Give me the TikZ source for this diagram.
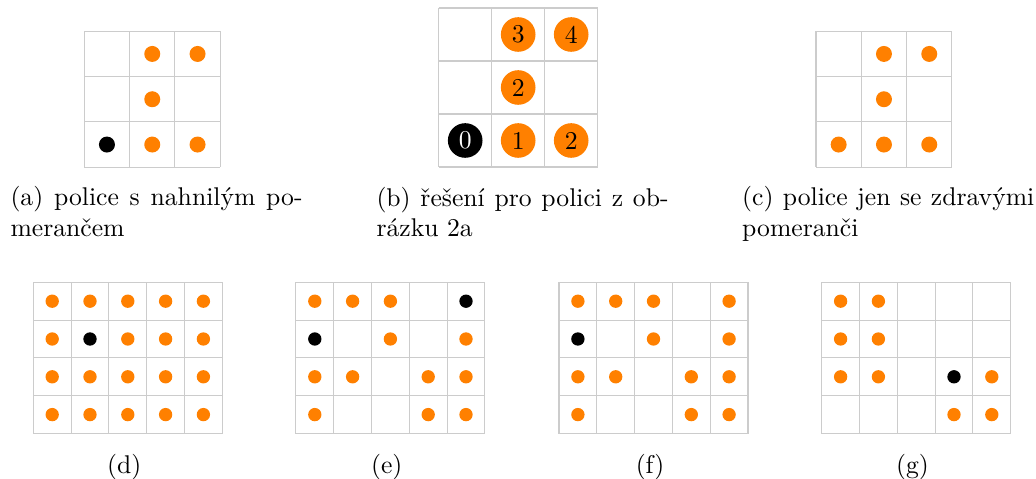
\documentclass[tikz,border=0pt]{standalone}
\usepackage{fontspec}
\begin{document}
\tikzset{
  gl/.style={draw=black!20, line width=0.4pt},
  dO/.style={circle, fill=orange, inner sep=0pt, minimum size=\dsz},
  dB/.style={circle, fill=black, inner sep=0pt, minimum size=\dsz},
  numO/.style={circle, fill=orange, inner sep=0pt, minimum size=13.5pt, font=\normalsize},
  numB/.style={circle, fill=black, text=white, inner sep=0pt, minimum size=13.5pt, font=\normalsize},
  captext/.style={anchor=base west, inner sep=0pt},
  labtext/.style={anchor=base, inner sep=0pt},
}
\newcommand\mygrid[8]{% #1 name, #2 x0, #3 y0, #4 cell, #5 cols, #6 rows, #7 dot size, #8 dots
  \begin{scope}[xshift=#2*0.39pt, yshift=-#3*0.39pt, x=#4*0.39pt, y=-#4*0.39pt]
    \def\dsz{#7}
    \foreach \i in {0,...,#5} \draw[gl] (\i,0) -- (\i,#6);
    \foreach \j in {0,...,#6} \draw[gl] (0,\j) -- (#5,\j);
    \foreach \c/\r/\s in {#8} \node[\s] (#1-\c-\r) at (\c-0.5,\r-0.5) {};
  \end{scope}}
\begin{tikzpicture}[x=0.39pt, y=-0.39pt]
\useasboundingbox (0,0) rectangle (1036,479);
% (a)
\mygrid{a}{84.3}{31.3}{45.3}{3}{3}{6.24pt}{2/1/dO,3/1/dO,2/2/dO,1/3/dB,2/3/dO,3/3/dO}
% (b)
\begin{scope}[xshift=438.7*0.39pt, yshift=-8*0.39pt, x=53*0.39pt, y=-53*0.39pt]
  \foreach \i in {0,...,3} \draw[gl] (\i,0) -- (\i,3);
  \foreach \j in {0,...,3} \draw[gl] (0,\j) -- (3,\j);
  \node[numO] (b-2-1) at (1.5,0.5) {3};
  \node[numO] (b-3-1) at (2.5,0.5) {4};
  \node[numO] (b-2-2) at (1.5,1.5) {2};
  \node[numB] (b-1-3) at (0.5,2.5) {0};
  \node[numO] (b-2-3) at (1.5,2.5) {1};
  \node[numO] (b-3-3) at (2.5,2.5) {2};
\end{scope}
% (c)
\mygrid{c}{816}{31.3}{45.3}{3}{3}{6.24pt}{2/1/dO,3/1/dO,2/2/dO,1/3/dO,2/3/dO,3/3/dO}
% captions top
\node[captext] (capa1) at (10,206) {\makebox[113.9pt][s]{(a) police s nahnilým po-}};
\node[captext] (capa2) at (10,236.7) {merančem};
\node[captext] (capb1) at (376,206.5) {\makebox[113.9pt][s]{(b) řešení pro polici z ob-}};
\node[captext] (capb2) at (376,236.7) {rázku 2a};
\node[captext] (capc1) at (741.7,206) {\makebox[113.9pt][s]{(c) police jen se zdravými}};
\node[captext] (capc2) at (741.7,236.7) {pomeranči};
% (d)
\mygrid{d}{33.3}{282.3}{37.8}{5}{4}{5.2pt}{1/1/dO,2/1/dO,3/1/dO,4/1/dO,5/1/dO,1/2/dO,2/2/dB,3/2/dO,4/2/dO,5/2/dO,1/3/dO,2/3/dO,3/3/dO,4/3/dO,5/3/dO,1/4/dO,2/4/dO,3/4/dO,4/4/dO,5/4/dO}
% (e)
\mygrid{e}{295.9}{282.3}{37.8}{5}{4}{5.2pt}{1/1/dO,2/1/dO,3/1/dO,5/1/dB,1/2/dB,3/2/dO,5/2/dO,1/3/dO,2/3/dO,4/3/dO,5/3/dO,1/4/dO,4/4/dO,5/4/dO}
% (f)
\mygrid{f}{559}{282.3}{37.8}{5}{4}{5.2pt}{1/1/dO,2/1/dO,3/1/dO,5/1/dO,1/2/dB,3/2/dO,5/2/dO,1/3/dO,2/3/dO,4/3/dO,5/3/dO,1/4/dO,4/4/dO,5/4/dO}
% (g)
\mygrid{g}{821.7}{282.3}{37.8}{5}{4}{5.2pt}{1/1/dO,2/1/dO,1/2/dO,2/2/dO,1/3/dO,2/3/dO,4/3/dB,5/3/dO,4/4/dO,5/4/dO}
% labels bottom
\node[labtext] (labd) at (124.3,473) {(d)};
\node[labtext] (labe) at (386.7,473) {(e)};
\node[labtext] (labf) at (650,473) {(f)};
\node[labtext] (labg) at (912.5,473) {(g)};
\end{tikzpicture}
\end{document}
